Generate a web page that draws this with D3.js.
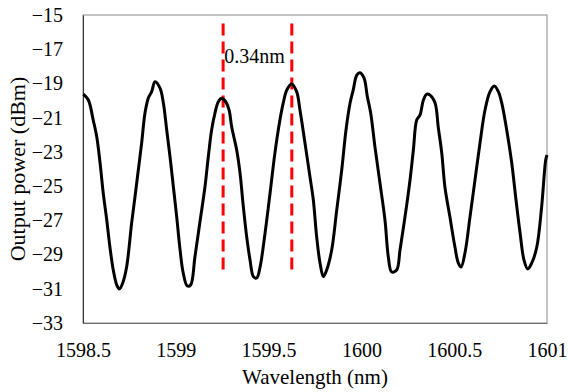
<!DOCTYPE html>
<html>
<head>
<meta charset="utf-8">
<script src="https://cdn.jsdelivr.net/npm/d3@7"></script>
<style>
  body { margin: 0; background: #fff; }
</style>
</head>
<body>
<div id="chart"></div>
<script>
// spectrum
const wavelength = [
  1598.502, 1598.529, 1598.555, 1598.574, 1598.592, 1598.609, 1598.628, 1598.645, 1598.663, 1598.682,
  1598.696, 1598.714, 1598.735, 1598.762, 1598.780, 1598.798, 1598.816, 1598.834, 1598.852, 1598.870,
  1598.888, 1598.915, 1598.933, 1598.951, 1598.969, 1598.987, 1599.005, 1599.023, 1599.040, 1599.062,
  1599.080, 1599.103, 1599.130, 1599.157, 1599.175, 1599.193, 1599.211, 1599.229, 1599.247, 1599.269,
  1599.287, 1599.301, 1599.328, 1599.346, 1599.364, 1599.382, 1599.400, 1599.418, 1599.436, 1599.454,
  1599.481, 1599.508, 1599.534, 1599.561, 1599.579, 1599.598, 1599.624, 1599.651, 1599.669, 1599.696,
  1599.723, 1599.741, 1599.759, 1599.777, 1599.795, 1599.813, 1599.840, 1599.867, 1599.894, 1599.917,
  1599.939, 1599.956, 1599.975, 1599.992, 1600.014, 1600.032, 1600.050, 1600.073, 1600.100, 1600.127,
  1600.145, 1600.163, 1600.190, 1600.208, 1600.226, 1600.244, 1600.262, 1600.280, 1600.298, 1600.316,
  1600.334, 1600.352, 1600.370, 1600.397, 1600.414, 1600.433, 1600.450, 1600.477, 1600.504, 1600.522,
  1600.537, 1600.558, 1600.585, 1600.612, 1600.639, 1600.666, 1600.693, 1600.716, 1600.738, 1600.756,
  1600.783, 1600.810, 1600.833, 1600.855, 1600.876, 1600.896, 1600.918, 1600.945, 1600.971, 1600.993,
  1601.000
];
const power = [
  -19.62, -19.97, -21.14, -22.11, -23.65, -25.40, -26.98, -28.56, -29.90, -30.78,
  -31.01, -30.66, -29.73, -27.16, -25.64, -24.06, -22.48, -20.73, -19.85, -19.48,
  -18.90, -19.27, -20.14, -21.72, -23.30, -25.05, -26.81, -28.73, -30.08, -30.84,
  -30.78, -29.14, -27.10, -25.05, -23.30, -21.72, -20.73, -20.07, -19.87, -20.07,
  -20.55, -21.53, -22.89, -24.23, -26.22, -27.97, -29.32, -30.29, -30.37, -29.73,
  -27.74, -25.40, -23.07, -21.14, -20.14, -19.38, -19.03, -19.48, -20.55, -22.48,
  -24.47, -25.81, -27.97, -29.49, -30.29, -29.90, -28.73, -26.40, -24.06, -21.72,
  -20.14, -19.38, -18.51, -18.37, -18.68, -19.77, -20.73, -22.71, -24.82, -26.98,
  -29.14, -30.02, -29.90, -28.73, -27.45, -26.11, -24.64, -22.89, -21.14, -20.84,
  -19.97, -19.62, -19.68, -20.14, -21.55, -23.07, -25.05, -26.81, -28.56, -29.49,
  -29.73, -28.91, -26.81, -24.64, -22.48, -20.55, -19.48, -19.15, -19.48, -20.14,
  -21.72, -23.65, -25.81, -27.74, -29.32, -29.84, -29.49, -28.56, -26.22, -23.47,
  -23.18
];

// marker lines and spacing note
const markers = [1599.255, 1599.625];
const markerTop = -15.5, markerBottom = -30.0;
const spacingLabel = '0.34nm';

const xTicks = [1598.5, 1599, 1599.5, 1600, 1600.5, 1601];
const xTickLabels = ['1598.5', '1599', '1599.5', '1600', '1600.5', '1601'];
const yTicks = [-33, -31, -29, -27, -25, -23, -21, -19, -17, -15];

let width = 568,
	height = 392,
	margin = { top: 15, right: 21, bottom: 69, left: 83 },
	innerW = width - margin.left - margin.right,
	innerH = height - margin.top - margin.bottom;

let svg = d3.select('#chart')
	.append('svg')
		.attr('width', width)
		.attr('height', height)
		.style('background', 'white');

let g = svg.append('g')
	.attr('transform', 'translate(' + margin.left + ',' + margin.top + ')');

let x = d3.scaleLinear().domain([1598.5, 1601]).range([0, innerW]);
let y = d3.scaleLinear().domain([-33, -15]).range([innerH, 0]);

// plot frame
g.append('rect')
	.attr('width', innerW)
	.attr('height', innerH)
	.attr('fill', 'none')
	.attr('stroke', '#8a8a8a')
	.attr('stroke-width', 1);

// axes, labels only
let xAxis = g.append('g')
	.attr('transform', 'translate(0,' + innerH + ')')
	.call(d3.axisBottom(x).tickValues(xTicks)
		.tickFormat((d, i) => xTickLabels[i]).tickSize(0).tickPadding(20));
xAxis.select('.domain').attr('stroke', '#6e6e6e');

let yAxis = g.append('g')
	.call(d3.axisLeft(y).tickValues(yTicks).tickSize(0).tickPadding(20));
yAxis.select('.domain').attr('stroke', '#333');

// red dashed markers
g.selectAll('.marker')
	.data(markers)
	.enter()
	.append('line')
		.attr('x1', d => x(d)).attr('x2', d => x(d))
		.attr('y1', y(markerTop)).attr('y2', y(markerBottom))
		.attr('stroke', '#ff0000')
		.attr('stroke-width', 3)
		.attr('stroke-dasharray', '12,6');

g.append('text')
	.attr('x', x(markers[0]) + 1)
	.attr('y', 48)
	.text(spacingLabel);

// spectrum
let line = d3.line()
	.x((d, i) => x(wavelength[i]))
	.y(d => y(d))
	.curve(d3.curveCatmullRom);

g.append('path')
	.datum(power)
	.attr('d', line)
	.attr('fill', 'none')
	.attr('stroke', '#000')
	.attr('stroke-width', 3)
	.attr('stroke-linejoin', 'round');

// every text in Times-like serif
svg.selectAll('text')
	.style('font-family', 'Liberation Serif')
	.style('font-size', '20px')
	.style('fill', '#000');

// axis titles
svg.append('text')
	.attr('x', margin.left + innerW / 2)
	.attr('y', 384)
	.attr('text-anchor', 'middle')
	.style('font-family', 'Liberation Serif')
	.style('font-size', '21px')
	.text('Wavelength (nm)');

svg.append('text')
	.attr('transform', 'translate(25,' + (margin.top + innerH / 2) + ') rotate(-90)')
	.attr('text-anchor', 'middle')
	.style('font-family', 'Liberation Serif')
	.style('font-size', '22px')
	.text('Output power (dBm)');
</script>
</body>
</html>
